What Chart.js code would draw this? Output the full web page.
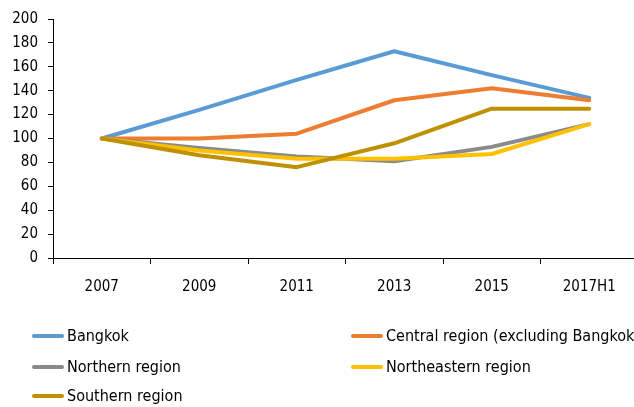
<!DOCTYPE html>
<html>
<head>
<meta charset="utf-8">
<script src="https://cdn.jsdelivr.net/npm/chart.js@4"></script>
<style>
    html, body { margin: 0; padding: 0; background: #fff; overflow: hidden; }
    #wrap { position: relative; width: 634px; height: 407px; overflow: hidden; }
    #chart { position: absolute; left: 0; top: 0; }
    #legend { position: absolute; left: 0; top: 0; width: 700px; height: 407px; }
    .item { position: absolute; white-space: nowrap; font-family: 'Liberation Sans Narrow', 'DejaVu Sans Condensed', sans-serif; font-size: 16px; color: #000; line-height: 20px; }
    .swatch { display: inline-block; width: 32px; height: 4px; border-radius: 2px; vertical-align: middle; margin-right: 3px; position: relative; top: -1px; }
</style>
</head>
<body>
<div id="wrap">
    <canvas id="chart" width="660" height="407"></canvas>
    <div id="legend"></div>
</div>
<script>
    var years = ['2007', '2009', '2011', '2013', '2015', '2017H1'];

    // index, 2007 = 100
    var bangkok = [100, 124, 149, 173, 153, 134];
    var central = [100, 100, 104, 132, 142, 132];
    var northern = [100, 92, 85, 81, 93, 112];
    var northeastern = [100, 90, 83, 83, 87, 112];
    var southern = [100, 86, 76, 96, 125, 125];

    var yTicks = [0, 20, 40, 60, 80, 100, 120, 140, 160, 180, 200];

    var seriesNames = ['Bangkok', 'Central region (excluding Bangkok)', 'Northern region', 'Northeastern region', 'Southern region'];
    var seriesColors = ['#5B9BD5', '#ED7D31', '#8A8A8A', '#FFC000', '#BF9000'];
    var seriesData = [bangkok, central, northern, northeastern, southern];

    var font = "'Liberation Sans Narrow', 'DejaVu Sans Condensed', sans-serif";

    var datasets = seriesData.map(function(d, i) {
        return {
            label: seriesNames[i],
            data: d,
            borderColor: seriesColors[i],
            backgroundColor: seriesColors[i],
            borderWidth: 4,
            pointRadius: 0,
            tension: 0,
            fill: false,
            borderCapStyle: 'round',
            borderJoinStyle: 'round',
            order: seriesData.length - i  // later series on top, like Excel
        };
    });

    var ctx = document.getElementById('chart').getContext('2d');
    new Chart(ctx, {
        type: 'line',
        data: { labels: years, datasets: datasets },
        options: {
            responsive: false,
            animation: false,
            layout: { padding: { left: 0, right: 22, top: 16, bottom: 0 } },
            plugins: {
                legend: { display: false },
                tooltip: { enabled: false }
            },
            scales: {
                x: {
                    offset: true,
                    grid: { offset: true, drawOnChartArea: false, drawTicks: true, tickLength: 6, color: '#000' },
                    border: { display: true, color: '#000', width: 1 },
                    ticks: { color: '#000', padding: 14, maxRotation: 0, font: { family: font, size: 15 } },
                    afterFit: function(scale) { scale.height = 149; }
                },
                y: {
                    min: 0,
                    max: 200,
                    afterBuildTicks: function(scale) {
                        scale.ticks = yTicks.map(function(v) { return { value: v }; });
                    },
                    grid: { drawOnChartArea: false, drawTicks: true, tickLength: 5, color: '#000' },
                    border: { display: true, color: '#000', width: 1 },
                    ticks: { color: '#000', padding: 10, font: { family: font, size: 15 } },
                    afterFit: function(scale) { scale.width = 53; }
                }
            }
        }
    });

    // two-column legend under the plot
    var legend = document.getElementById('legend');
    var colX = [32, 351];
    var rowY = [336, 367, 396];
    seriesNames.forEach(function(name, i) {
        var el = document.createElement('div');
        el.className = 'item';
        el.style.left = colX[i % 2] + 'px';
        el.style.top = (rowY[Math.floor(i / 2)] - 10) + 'px';
        var sw = document.createElement('span');
        sw.className = 'swatch';
        sw.style.background = seriesColors[i];
        el.appendChild(sw);
        el.appendChild(document.createTextNode(name));
        legend.appendChild(el);
    });
</script>
</body>
</html>
